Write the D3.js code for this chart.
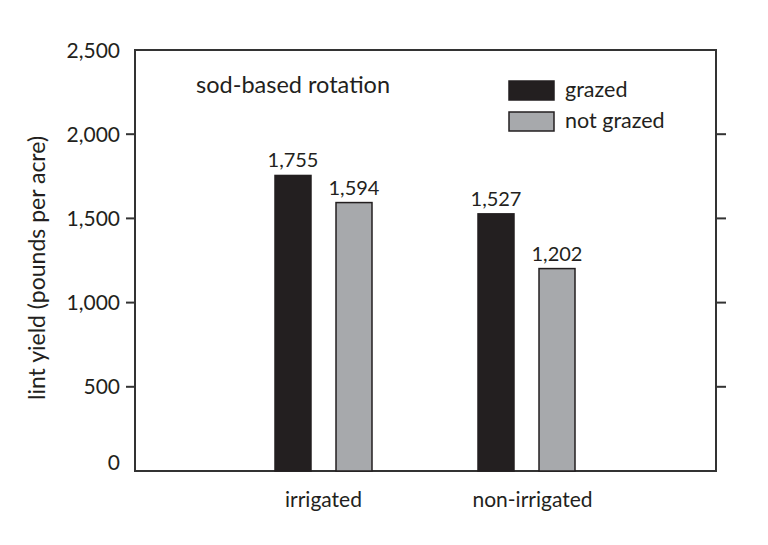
<!DOCTYPE html>
<html lang="en">
<head>
<meta charset="UTF-8">
<title>Lint yield, sod-based rotation</title>
<style>
  body { margin: 0; background: #fff; }
  svg { display: block; }
  text { font-family: Lato, "Open Sans", sans-serif; fill: #231f20; }
  .tick-label { font-size: 21px; }
  .val { font-size: 20px; }
  .cat { font-size: 21px; }
  .axis-line { stroke: #333; stroke-width: 2; fill: none; }
</style>
</head>
<body>
<svg id="chart" width="768" height="545"></svg>
<script src="https://d3js.org/d3.v7.min.js"></script>
<script>
const categories = ["irrigated", "non-irrigated"];
const series = ["grazed", "not grazed"];
const grazed = [1755, 1527];
const notGrazed = [1594, 1202];
const yTicks = [0, 500, 1000, 1500, 2000, 2500];

const colors = { "grazed": "#231f20", "not grazed": "#a7a9ac" };

const svg = d3.select("#chart");
const plotL = 135, plotR = 716, plotT = 50, plotB = 471;

const y = d3.scaleLinear().domain([0, 2500]).range([plotB, plotT]);
const x = d3.scaleBand().domain(categories).range([222, 628]).padding(0);
const xs = d3.scaleBand().domain(series).range([0, 97]).paddingInner(0.41);

// frame
svg.append("path").attr("class", "axis-line")
  .attr("d", `M${plotL},${plotT}H${plotR}V${plotB}H${plotL}Z`);

// tick marks left (outside) and right (outside)
const inner = yTicks.filter(d => d > 0 && d < 2500);
svg.selectAll(".tl").data(inner).enter().append("line")
  .attr("class", "axis-line")
  .attr("x1", plotL - 9).attr("x2", plotL)
  .attr("y1", d => y(d)).attr("y2", d => y(d));
svg.selectAll(".tr").data(inner).enter().append("line")
  .attr("class", "axis-line")
  .attr("x1", plotR).attr("x2", plotR + 10)
  .attr("y1", d => y(d)).attr("y2", d => y(d));

svg.selectAll(".tick-label").data(yTicks).enter().append("text")
  .attr("class", "tick-label")
  .attr("x", 120)
  .attr("y", d => y(d) + (d === 0 ? -9 : 0))
  .attr("dy", "0.36em")
  .attr("text-anchor", "end")
  .text(d => d3.format(",")(d));

// y axis title
svg.append("text")
  .attr("transform", "translate(45,268) rotate(-90)")
  .attr("text-anchor", "middle")
  .style("font-size", "23px")
  .text("lint yield (pounds per acre)");

// bars
const rows = categories.map((c, i) => ({ cat: c, values: [
  { key: "grazed", v: grazed[i] }, { key: "not grazed", v: notGrazed[i] }] }));

const g = svg.selectAll(".grp").data(rows).enter().append("g")
  .attr("transform", d => `translate(${x(d.cat) + x.bandwidth() / 2 - 48.5},0)`);

g.selectAll("rect").data(d => d.values).enter().append("rect")
  .attr("x", d => xs(d.key))
  .attr("width", xs.bandwidth())
  .attr("y", d => y(d.v))
  .attr("height", d => y(0) - y(d.v))
  .attr("fill", d => colors[d.key])
  .attr("stroke", "#231f20")
  .attr("stroke-width", 1.5);

g.selectAll(".val").data(d => d.values).enter().append("text")
  .attr("class", "val")
  .attr("x", d => xs(d.key) + xs.bandwidth() / 2)
  .attr("y", d => y(d.v) - 8)
  .attr("text-anchor", "middle")
  .text(d => d3.format(",")(d.v));

// category labels
svg.selectAll(".cat").data(categories).enter().append("text")
  .attr("class", "cat")
  .attr("x", (d, i) => x(d) + x.bandwidth() / 2 + (i === 1 ? 6 : 0))
  .attr("y", 507)
  .attr("text-anchor", "middle")
  .text(d => d);

// annotation
svg.append("text")
  .attr("x", 196).attr("y", 93)
  .style("font-size", "23.5px")
  .text("sod-based rotation");

// legend
const lg = svg.append("g").attr("transform", "translate(509,81)");
series.forEach((s, i) => {
  lg.append("rect")
    .attr("x", 0).attr("y", i * 31)
    .attr("width", 45).attr("height", 19)
    .attr("fill", colors[s])
    .attr("stroke", "#231f20").attr("stroke-width", 1.5);
  lg.append("text")
    .attr("x", 56).attr("y", i * 31 + 10)
    .attr("dy", "0.3em")
    .style("font-size", "21.5px")
    .text(s);
});
</script>
</body>
</html>
